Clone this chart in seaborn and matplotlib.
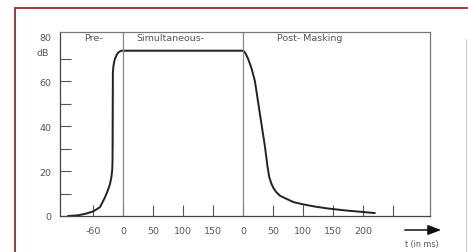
import numpy as np
import pandas as pd
import seaborn as sns
from matplotlib import pyplot as plt
from matplotlib.lines import Line2D

# masking curve (dB vs ms in each phase)
pre_ms = [-110, -90, -75, -60, -46, -36, -30, -26, -23, -21.5, -20.9, -20.6, -20.6, -20.2, -19.4, -18, -16, -13, -9.4, -5, -2, 0]
pre_db = [0, 0.3, 1.0, 2.0, 3.9, 8.3, 11.5, 14.2, 17.5, 20.5, 24, 30, 60, 63.5, 66, 68.2, 69.8, 71.5, 72.7, 73.3, 73.5, 73.5]
sim_ms = [0, 200]
sim_db = [73.5, 73.5]
post_ms = [0, 2, 4.5, 8, 11, 14.5, 20, 28, 36.7, 41, 44, 47.8, 51, 56, 62, 72.8, 84, 100, 120, 140, 170, 195, 220]
post_db = [73.5, 73.2, 72.2, 70.3, 68.2, 65.5, 60, 46, 31, 22, 17.2, 14.2, 12.4, 10.5, 9.0, 7.6, 6.2, 5.2, 4.2, 3.4, 2.5, 1.9, 1.3]

pre_ticks = [-60]
sim_ticks = [0, 50, 100, 150]
post_ticks = [0, 50, 100, 150, 200, 250]
post_labels = ["0", "50", "100", "150", "200", ""]
phase_names = ["Pre-", "Simultaneous-", "Post- Masking"]

# the scan draws the pre phase on a tighter time scale
PRE_SCALE = 0.5 / 0.6
SIM_LEN = 200


def pos(phase, t):
    t = np.asarray(t, dtype=float)
    if phase == "pre":
        return t * PRE_SCALE
    if phase == "sim":
        return t
    return SIM_LEN + t


df = pd.DataFrame({
    "x": np.concatenate([pos("pre", pre_ms), pos("sim", sim_ms), pos("post", post_ms)]),
    "db": np.concatenate([pre_db, sim_db, post_db]),
})

sns.set_style("white")
plt.rcParams["font.family"] = ["DejaVu Sans"]
FS = 6.8
TXT = "#555555"

fig = plt.figure(figsize=(4.68, 2.53), dpi=100)
ax = fig.add_axes([60 / 468, 1 - 217 / 253, 370 / 468, 184 / 253])

sns.lineplot(data=df, x="x", y="db", sort=False, color="#222222", lw=1.4, ax=ax)

ax.set_xlim(-105, 512)
ax.set_ylim(0, 81.8)
ax.set_xlabel("")
ax.set_ylabel("")

for s in ax.spines.values():
    s.set_color("#777777")
    s.set_linewidth(0.9)
ax.spines["bottom"].set_color("#444444")
ax.spines["left"].set_color("#444444")

# phase borders
for b in [0, SIM_LEN]:
    ax.axvline(b, color="#888888", lw=0.9)

xt = list(pos("pre", pre_ticks)) + list(pos("sim", sim_ticks)) + list(pos("post", post_ticks))
xl = [str(v) for v in pre_ticks] + [str(v) for v in sim_ticks] + post_labels
ax.set_xticks(xt)
ax.set_xticklabels(xl)
ax.set_yticks([0, 20, 40, 60, 80])
ax.set_yticks([10, 30, 50, 70], minor=True)
ax.tick_params(axis="both", which="both", direction="in", length=8, width=0.8,
               color="#555555", labelsize=FS, labelcolor=TXT,
               bottom=True, left=True, top=False, right=False)
ax.tick_params(axis="x", pad=7)
ax.tick_params(axis="y", pad=6)
# no tick mark at the 80 label in the scan
ax.yaxis.get_major_ticks()[-1].tick1line.set_visible(False)

ax.text(-0.03, 72.8, "dB", transform=ax.get_yaxis_transform(), ha="right", va="center",
        fontsize=FS, color=TXT)

tx = [pos("pre", -60), pos("sim", 22), pos("post", 57)]
for x, name in zip(tx, phase_names):
    ax.text(x, 79.5, name, ha="left" if x > 0 else "center", va="center",
            fontsize=FS, color=TXT)

ax.annotate("", xy=(444 / 468, 1 - 231 / 253), xytext=(402 / 468, 1 - 231 / 253),
            xycoords="figure fraction",
            arrowprops=dict(arrowstyle="-|>,head_length=0.8,head_width=0.3", color="#111111", lw=1.1))
fig.text(422 / 468, 1 - 245 / 253, "t (in ms)", ha="center", va="center", fontsize=5.8, color=TXT)

# scan frame
fig.add_artist(Line2D([15 / 468, 1], [1 - 9 / 253] * 2, color="#9e3a3a", lw=1.4))
fig.add_artist(Line2D([15 / 468] * 2, [0, 1 - 9 / 253], color="#9e3a3a", lw=1.4))
fig.add_artist(Line2D([466 / 468] * 2, [0, 1 - 40 / 253], color="#cccccc", lw=0.8))

fig.savefig("out.png", dpi=100)
